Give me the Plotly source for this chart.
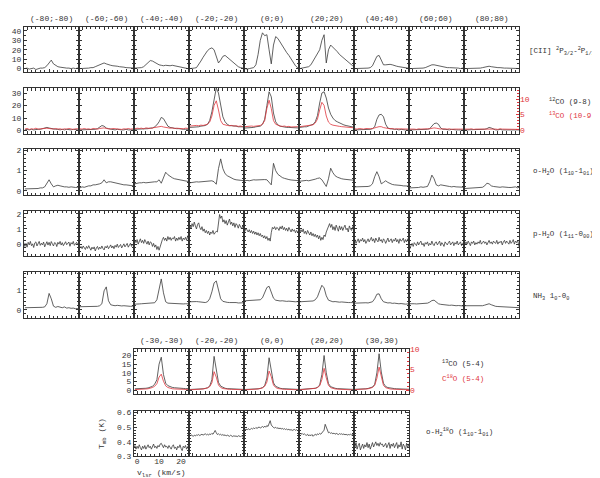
import numpy as np
import plotly.graph_objects as go

W, H = 600, 478
# velocity channel grids (km/s)
V1 = np.arange(-1.0, 24.5, 1.0)      # 26 channels
V05 = np.arange(-1.5, 24.25, 0.5)    # 52 channels

TOP_TITLES = ["(-80;-80)", "(-60;-60)", "(-40;-40)", "(-20;-20)", "(0;0)",
              "(20;20)", "(40;40)", "(60;60)", "(80;80)"]
BOT_TITLES = ["(-30,-30)", "(-20,-20)", "(0,0)", "(20,20)", "(30,30)"]

# ---------------- [CII] 2P3/2-2P1/2 (V1) ----------------
cii_m80 = [0, 0.5, -0.5, 0, 0.5, -1, 0, 0.5, 0.5, 1, 3, 6, 9, 5, 3, 2, 1.5, 1, 1, 0.5, 0.5, 0, 0.5, 0, 0.5, 0]
cii_m60 = [0, 0, 0.5, 0, 0.5, 1, 1, 2, 3, 4, 5.5, 6, 5, 4, 3.5, 3, 3, 2.5, 2, 2, 1.5, 1, 1, 0.5, 0.5, 0.5]
cii_m40 = [0.5, 0.5, 1, 1, 2, 4, 6, 8.5, 8, 6.5, 5, 4, 3.5, 3, 3.5, 3, 3, 3.5, 3, 2, 1.5, 1, 0.5, 0.5, 0, 0]
cii_m20 = [0, 0, 0.5, 1, 4, 8, 12, 16, 19, 21, 22, 20, 12, 6, 9, 13, 14, 12, 10, 7, 5, 3, 2, 1, 0.5, 0]
cii_0 = [0, -0.5, 0, 0.5, 1, 4, 15, 30, 38, 35, 36, 20, 5, 25, 34, 32, 28, 24, 20, 17, 14, 10, 6, 3, 1, 0]
cii_20 = [0, 0.5, 1, 1.5, 2, 4, 8, 12, 16, 20, 30, 36, 6, 20, 25, 23, 21, 18, 15, 13, 11, 9, 6, 4, 3, 2]
cii_40 = [0, 0, 0.5, 0, 0.5, 0, 0.5, 1, 3, 8, 13, 14, 8, 4, 4, 4.5, 4.5, 4, 3, 2.5, 2, 1.5, 1, 1, 0.5, 0.5]
cii_60 = [0, 0, 0, 0.5, 0, 0.5, 0.5, 1, 2, 3, 4, 4, 3.5, 2.5, 2, 1.5, 1.5, 1, 1, 1, 0.5, 0.5, 0.5, 0, 0.5, 0]
cii_80 = [0, 0, 0.5, 0, 0.5, 0, 0.5, 0.5, 1, 1.5, 2.5, 2.5, 2, 1.5, 1, 1, 1, 0.5, 0.5, 0.5, 0.5, 0, 0.5, 0, 0.5, 0]

# ---------------- 12CO (9-8) black, 13CO (10-9) red (V1) ----------------
co12_m80 = [0.5, 1, 0.5, 1, 0.5, 1, 1, 1, 1.5, 2, 2.5, 2, 1.5, 1, 1, 1, 0.5, 1, 0.5, 1, 0.5, 0.5, 1, 0.5, 0.5, 0.5]
co12_m60 = [0.5, 0.5, 1, 0.5, 1, 0.5, 1, 1, 1.5, 2.5, 4, 3.5, 2, 1.5, 1, 1, 0.5, 1, 0.5, 0.5, 0.5, 1, 0.5, 0.5, 0.5, 0.5]
co12_m40 = [1, 1, 1, 1.5, 1, 1.5, 1.5, 2, 2, 3, 4.5, 7, 10.5, 9.5, 6, 3.5, 2.5, 2, 1.5, 1.5, 1.5, 1, 1, 1, 1, 1]
co12_m20 = [2.5, 2.5, 3, 3, 3, 3.5, 3.5, 4, 5, 8, 15, 26, 34, 30, 20, 11, 7, 5, 4, 4, 3.5, 3.5, 3, 3, 3, 3]
co12_0 = [2, 2, 2.5, 2.5, 2.5, 3, 3, 3.5, 5, 9, 20, 31, 27, 14, 7, 4.5, 3.5, 3, 3, 2.5, 2.5, 2.5, 2, 2, 2, 2]
co12_20 = [2.5, 3, 3, 3, 3.5, 4, 5, 7, 12, 22, 30, 31, 26, 18, 13, 10, 8, 7, 6, 5, 4.5, 4, 3.5, 3, 2.5, 2.5]
co12_40 = [0.5, 0.5, 0.5, 1, 0.5, 1, 1, 1, 1.5, 3, 9, 12.5, 13, 11, 5, 2, 1.5, 1, 1, 1, 0.5, 1, 0.5, 0.5, 0.5, 0.5]
co12_60 = [0.5, 0.5, 0.5, 0.5, 1, 0.5, 0.5, 1, 1, 1.5, 4, 5.5, 6, 5, 2, 1, 1, 0.5, 0.5, 1, 0.5, 0.5, 0.5, 0.5, 0.5, 0.5]
co12_80 = [0.5, 0.5, 0.5, 0.5, 0.5, 0.5, 1, 0.5, 1, 1, 1.5, 2.5, 2, 1, 0.5, 0.5, 1, 0.5, 0.5, 0.5, 0.5, 0.5, 0.5, 0.5, 0.5, 0.5]

co13_m80 = [0.2, 0.4, 0.1, 0.3, 0.2, 0.5, 0.2, 0.3, 0.4, 0.3, 0.5, 0.4, 0.3, 0.2, 0.4, 0.2, 0.3, 0.1, 0.3, 0.2, 0.4, 0.2, 0.1, 0.3, 0.2, 0.3]
co13_m60 = [0.3, 0.2, 0.4, 0.2, 0.3, 0.1, 0.4, 0.3, 0.2, 0.4, 0.5, 0.6, 0.4, 0.3, 0.2, 0.4, 0.3, 0.2, 0.3, 0.1, 0.3, 0.2, 0.4, 0.2, 0.3, 0.2]
co13_m40 = [0.3, 0.5, 0.4, 0.5, 0.3, 0.6, 0.5, 0.4, 0.6, 0.7, 0.8, 1.0, 1.1, 0.9, 0.7, 0.6, 0.5, 0.6, 0.4, 0.5, 0.4, 0.5, 0.3, 0.5, 0.4, 0.4]
co13_m20 = [1.2, 1.3, 1.2, 1.4, 1.3, 1.5, 1.4, 1.6, 1.8, 2.5, 4.5, 8, 9.5, 6.5, 3, 1.8, 1.5, 1.4, 1.3, 1.4, 1.2, 1.3, 1.1, 1.2, 1.0, 1.1]
co13_0 = [1.0, 1.1, 1.0, 1.2, 1.1, 1.2, 1.3, 1.4, 1.8, 3, 7, 9.7, 7, 3, 1.8, 1.4, 1.2, 1.1, 1.2, 1.0, 1.1, 0.9, 1.0, 0.9, 1.0, 0.9]
co13_20 = [1.0, 1.1, 1.2, 1.1, 1.3, 1.4, 1.6, 2.2, 3.5, 6.5, 9, 8, 4.5, 2.5, 1.8, 1.5, 1.3, 1.2, 1.1, 1.0, 0.9, 0.8, 0.8, 0.7, 0.7, 0.6]
co13_40 = [0.3, 0.2, 0.4, 0.3, 0.2, 0.4, 0.3, 0.3, 0.4, 0.5, 0.8, 1.0, 1.0, 0.7, 0.5, 0.4, 0.3, 0.4, 0.2, 0.3, 0.3, 0.2, 0.3, 0.2, 0.3, 0.2]
co13_60 = [0.2, 0.3, 0.2, 0.1, 0.3, 0.2, 0.3, 0.2, 0.3, 0.3, 0.5, 0.6, 0.5, 0.3, 0.2, 0.3, 0.2, 0.2, 0.3, 0.1, 0.2, 0.3, 0.2, 0.2, 0.1, 0.2]
co13_80 = [0.2, 0.1, 0.2, 0.3, 0.1, 0.2, 0.2, 0.3, 0.2, 0.2, 0.3, 0.4, 0.3, 0.2, 0.2, 0.1, 0.3, 0.2, 0.2, 0.1, 0.2, 0.2, 0.1, 0.2, 0.2, 0.1]

# ---------------- o-H2O (1_10-1_01) (V1) ----------------
oh2o_m80 = [0.10, 0.10, 0.12, 0.10, 0.12, 0.10, 0.12, 0.15, 0.15, 0.20, 0.35, 0.55, 0.35, 0.20, 0.25, 0.28, 0.25, 0.22, 0.20, 0.20, 0.18, 0.20, 0.18, 0.17, 0.18, 0.20]
oh2o_m60 = [0.15, 0.20, 0.18, 0.22, 0.25, 0.25, 0.30, 0.30, 0.32, 0.35, 0.40, 0.55, 0.40, 0.45, 0.45, 0.42, 0.40, 0.38, 0.35, 0.33, 0.30, 0.30, 0.28, 0.26, 0.25, 0.24]
oh2o_m40 = [0.35, 0.38, 0.40, 0.40, 0.42, 0.40, 0.42, 0.42, 0.43, 0.45, 0.45, 0.55, 0.38, 0.70, 0.92, 0.80, 0.70, 0.65, 0.60, 0.58, 0.55, 0.52, 0.50, 0.48, 0.47, 0.45]
oh2o_m20 = [0.40, 0.42, 0.43, 0.45, 0.44, 0.45, 0.46, 0.45, 0.47, 0.48, 0.50, 0.45, 0.33, 1.10, 1.58, 1.10, 0.85, 0.75, 0.68, 0.62, 0.58, 0.55, 0.53, 0.52, 0.50, 0.50]
oh2o_0 = [0.50, 0.52, 0.50, 0.53, 0.55, 0.54, 0.55, 0.57, 0.55, 0.56, 0.55, 0.40, 0.30, 1.36, 1.00, 0.82, 0.72, 0.66, 0.62, 0.58, 0.56, 0.54, 0.53, 0.52, 0.50, 0.50]
oh2o_20 = [0.48, 0.50, 0.50, 0.52, 0.50, 0.52, 0.55, 0.58, 0.62, 0.64, 0.55, 0.35, 0.22, 0.60, 1.12, 0.90, 0.75, 0.68, 0.62, 0.60, 0.58, 0.56, 0.55, 0.54, 0.53, 0.52]
oh2o_40 = [0.20, 0.20, 0.22, 0.20, 0.22, 0.20, 0.22, 0.25, 0.35, 0.70, 0.95, 0.70, 0.35, 0.42, 0.50, 0.42, 0.35, 0.32, 0.30, 0.30, 0.28, 0.27, 0.25, 0.25, 0.25, 0.24]
oh2o_60 = [0.15, 0.15, 0.17, 0.15, 0.17, 0.20, 0.18, 0.20, 0.22, 0.45, 0.78, 0.60, 0.30, 0.25, 0.30, 0.28, 0.25, 0.22, 0.22, 0.20, 0.22, 0.20, 0.20, 0.18, 0.20, 0.18]
oh2o_80 = [0.12, 0.13, 0.12, 0.14, 0.13, 0.15, 0.15, 0.17, 0.18, 0.25, 0.38, 0.35, 0.25, 0.22, 0.20, 0.20, 0.18, 0.20, 0.18, 0.18, 0.17, 0.17, 0.18, 0.20, 0.15, 0.20]

# ---------------- p-H2O (1_11-0_00) (V05, noisy) ----------------
ph2o_m80 = [0.10, -0.15, 0.05, -0.20, 0.12, -0.05, 0.18, -0.10, 0.02, -0.22, 0.08, 0.15, -0.12,
            0.00, 0.18, -0.08, 0.06, -0.05, 0.14, -0.18, 0.04, 0.16, -0.06, 0.12, -0.10, 0.17,
            0.02, -0.12, 0.10, 0.06, -0.16, 0.12, 0.00, 0.18, -0.06, 0.10, -0.10, 0.06, 0.16,
            -0.04, 0.02, 0.14, -0.14, 0.10, 0.00, 0.18, -0.08, 0.06, 0.12, -0.04, 0.15, 0.02]
ph2o_m60 = [-0.10, -0.25, -0.15, -0.30, -0.12, -0.22, -0.35, -0.15, -0.28, -0.10, -0.30, -0.40, -0.20,
            -0.32, -0.18, -0.45, -0.25, -0.15, -0.35, -0.20, -0.30, -0.12, -0.28, -0.38, -0.15, -0.25,
            -0.10, -0.30, -0.18, -0.05, -0.25, -0.12, -0.30, -0.08, -0.20, 0.00, -0.22, -0.10, -0.02,
            -0.25, -0.08, 0.02, -0.18, -0.05, 0.05, -0.20, -0.02, 0.06, -0.15, 0.00, -0.10, 0.04]
ph2o_m40 = [0.05, 0.25, 0.10, 0.30, 0.00, 0.20, 0.35, 0.10, 0.25, 0.05, 0.30, 0.15, 0.00,
            0.20, -0.05, 0.15, 0.10, -0.15, 0.05, -0.20, -0.05, -0.35, -0.15, -0.40, -0.10, 0.15,
            0.30, 0.45, 0.25, 0.40, 0.20, 0.50, 0.30, 0.45, 0.25, 0.40, 0.35, 0.50, 0.20,
            0.40, 0.25, 0.45, 0.30, 0.50, 0.20, 0.40, 0.30, 0.45, 0.25, 0.55, 0.35, 0.45]
ph2o_m20 = [1.10, 1.25, 1.05, 1.35, 1.15, 1.45, 1.20, 1.00, 1.30, 1.40, 1.10, 0.95, 1.15,
            0.85, 1.00, 0.75, 0.90, 0.70, 0.85, 0.60, 0.80, 0.70, 0.90, 0.65, 0.75, 0.85,
            0.80, 1.50, 1.95, 1.70, 1.85, 1.45, 1.60, 1.35, 1.55, 1.25, 1.50, 1.65, 1.30,
            1.45, 1.20, 1.40, 1.10, 1.35, 1.25, 1.05, 1.30, 1.15, 1.00, 1.20, 1.05, 1.10]
ph2o_0 = [1.00, 0.85, 1.05, 0.90, 0.80, 0.95, 0.75, 0.90, 0.70, 0.85, 0.65, 0.80, 0.60,
          0.75, 0.55, 0.70, 0.50, 0.60, 0.40, 0.55, 0.35, 0.50, 0.25, 0.40, 0.20, 0.75,
          1.10, 1.00, 1.15, 0.95, 1.10, 1.05, 0.90, 1.15, 1.00, 1.20, 0.95, 1.10, 0.90,
          1.05, 0.85, 1.10, 0.95, 0.80, 1.00, 0.85, 0.95, 0.75, 0.90, 0.80, 0.85, 0.75]
ph2o_20 = [0.90, 0.75, 0.95, 0.80, 1.00, 0.70, 0.85, 0.65, 0.90, 0.75, 0.60, 0.80, 0.55,
           0.70, 0.50, 0.65, 0.45, 0.60, 0.35, 0.55, 0.25, 0.45, 0.30, 0.60, 0.50, 0.80,
           0.95, 1.20, 1.35, 1.10, 1.30, 0.95, 1.15, 0.90, 1.25, 1.05, 0.85, 1.20, 0.95,
           1.15, 0.90, 1.10, 1.25, 0.95, 1.05, 0.80, 1.20, 1.00, 0.90, 1.15, 0.95, 1.10]
ph2o_40 = [0.15, 0.30, 0.05, 0.25, 0.35, 0.10, 0.30, 0.20, 0.40, 0.15, 0.30, 0.05, 0.25,
           0.35, 0.15, 0.30, 0.45, 0.20, 0.35, 0.10, 0.40, 0.25, 0.15, 0.45, 0.20, 0.30,
           0.10, 0.35, 0.25, 0.05, 0.30, 0.40, 0.15, 0.25, 0.35, 0.10, 0.30, 0.20, 0.40,
           0.15, 0.30, 0.05, 0.35, 0.20, 0.25, 0.40, 0.10, 0.30, 0.15, 0.35, 0.25, 0.20]
ph2o_60 = [-0.05, -0.30, -0.10, 0.05, -0.15, 0.10, 0.00, -0.10, 0.15, -0.05, 0.10, 0.20, -0.05,
           0.05, -0.15, 0.10, 0.00, 0.15, -0.10, 0.05, -0.05, 0.20, 0.00, -0.10, 0.10, 0.15,
           -0.05, 0.05, 0.20, -0.10, 0.10, 0.00, -0.15, 0.15, 0.05, -0.05, 0.10, 0.20, -0.05,
           0.05, 0.15, -0.10, 0.10, 0.00, 0.20, -0.05, 0.10, 0.15, -0.10, 0.05, 0.00, 0.10]
ph2o_80 = [0.10, -0.05, 0.15, 0.00, 0.20, 0.05, -0.10, 0.15, 0.05, 0.20, -0.05, 0.10, 0.00,
           0.15, 0.05, 0.25, 0.00, 0.10, 0.20, 0.05, 0.15, -0.05, 0.10, 0.25, 0.05, 0.15,
           0.00, 0.20, 0.10, 0.05, 0.25, 0.00, 0.15, 0.10, 0.20, -0.05, 0.15, 0.25, 0.05,
           0.20, 0.10, 0.00, 0.25, 0.05, 0.15, 0.30, 0.00, 0.20, 0.10, 0.25, -0.10, -0.35]

# ---------------- NH3 1_0-0_0 (V1) ----------------
nh3_m80 = [0.10, 0.10, 0.12, 0.10, 0.10, 0.11, 0.10, 0.10, 0.12, 0.14, 0.30, 0.82, 0.55, 0.18, 0.12, 0.16, 0.12, 0.10, 0.14, 0.08, 0.10, 0.07, 0.08, 0.05, 0.06, 0.05]
nh3_m60 = [0.15, 0.15, 0.16, 0.15, 0.17, 0.15, 0.16, 0.18, 0.17, 0.20, 0.30, 0.95, 1.15, 0.45, 0.25, 0.22, 0.20, 0.22, 0.20, 0.19, 0.20, 0.18, 0.19, 0.17, 0.18, 0.17]
nh3_m40 = [0.28, 0.30, 0.29, 0.30, 0.31, 0.30, 0.32, 0.31, 0.32, 0.35, 0.50, 1.10, 1.55, 0.85, 0.40, 0.33, 0.32, 0.31, 0.32, 0.30, 0.31, 0.30, 0.29, 0.30, 0.28, 0.29]
nh3_m20 = [0.40, 0.41, 0.42, 0.41, 0.40, 0.38, 0.37, 0.36, 0.40, 0.55, 0.90, 1.35, 1.45, 0.95, 0.55, 0.42, 0.38, 0.37, 0.36, 0.37, 0.35, 0.36, 0.34, 0.35, 0.34, 0.35]
nh3_0 = [0.45, 0.46, 0.45, 0.47, 0.46, 0.47, 0.48, 0.50, 0.60, 0.85, 1.12, 1.18, 0.85, 0.58, 0.48, 0.45, 0.44, 0.45, 0.43, 0.42, 0.43, 0.41, 0.42, 0.40, 0.41, 0.40]
nh3_20 = [0.40, 0.41, 0.40, 0.42, 0.41, 0.42, 0.44, 0.50, 0.65, 0.95, 1.23, 1.10, 0.70, 0.48, 0.42, 0.40, 0.41, 0.39, 0.38, 0.39, 0.37, 0.38, 0.36, 0.36, 0.35, 0.35]
nh3_40 = [0.33, 0.34, 0.33, 0.35, 0.34, 0.35, 0.34, 0.36, 0.40, 0.55, 0.78, 0.80, 0.55, 0.40, 0.36, 0.34, 0.35, 0.32, 0.33, 0.31, 0.30, 0.31, 0.29, 0.28, 0.29, 0.27]
nh3_60 = [0.30, 0.31, 0.30, 0.29, 0.30, 0.29, 0.30, 0.31, 0.33, 0.38, 0.46, 0.48, 0.38, 0.30, 0.27, 0.25, 0.26, 0.24, 0.22, 0.23, 0.21, 0.20, 0.21, 0.19, 0.18, 0.18]
nh3_80 = [0.20, 0.20, 0.21, 0.19, 0.20, 0.19, 0.18, 0.19, 0.20, 0.23, 0.28, 0.30, 0.25, 0.20, 0.17, 0.16, 0.15, 0.16, 0.14, 0.13, 0.14, 0.12, 0.12, 0.11, 0.10, 0.10]

# ---------------- 13CO (5-4) black, C18O (5-4) red (V1) ----------------
co13_54_m30 = [0.8, 0.8, 0.9, 0.9, 1.0, 1.1, 1.3, 1.6, 2.2, 3.5, 6, 15, 19, 9, 4, 2.6, 2.0, 1.6, 1.4, 1.2, 1.1, 1.0, 1.0, 0.9, 0.9, 0.9]
co13_54_m20 = [0.4, 0.4, 0.5, 0.5, 0.6, 0.7, 0.8, 1.0, 1.4, 2.3, 6, 19.5, 13, 4.5, 2.3, 1.5, 1.1, 0.9, 0.8, 0.7, 0.6, 0.6, 0.5, 0.5, 0.4, 0.4]
co13_54_0 = [0.4, 0.4, 0.5, 0.5, 0.6, 0.7, 0.8, 1.0, 1.5, 2.6, 7, 18.7, 12, 4.2, 2.2, 1.5, 1.1, 0.9, 0.8, 0.7, 0.6, 0.6, 0.5, 0.5, 0.4, 0.4]
co13_54_20 = [0.4, 0.5, 0.5, 0.6, 0.6, 0.7, 0.9, 1.1, 1.6, 3, 9, 20, 10, 3.8, 2, 1.4, 1.1, 0.9, 0.8, 0.7, 0.6, 0.6, 0.5, 0.5, 0.5, 0.4]
co13_54_30 = [0.5, 0.5, 0.6, 0.6, 0.7, 0.8, 1.0, 1.2, 1.8, 3.3, 10, 21, 10.5, 4, 2.1, 1.5, 1.2, 1.0, 0.9, 0.8, 0.7, 0.7, 0.6, 0.6, 0.5, 0.5]

c18o_m30 = [0.2, 0.2, 0.25, 0.3, 0.3, 0.35, 0.4, 0.5, 0.7, 1.0, 1.6, 3.2, 3.9, 2.2, 1.1, 0.7, 0.5, 0.4, 0.35, 0.3, 0.3, 0.25, 0.25, 0.2, 0.2, 0.2]
c18o_m20 = [0.15, 0.15, 0.2, 0.2, 0.25, 0.3, 0.35, 0.45, 0.6, 0.9, 1.8, 4.5, 3.2, 1.3, 0.7, 0.45, 0.35, 0.3, 0.25, 0.25, 0.2, 0.2, 0.2, 0.15, 0.15, 0.15]
c18o_0 = [0.15, 0.15, 0.2, 0.2, 0.25, 0.3, 0.35, 0.45, 0.6, 1.0, 2.0, 4.65, 3.3, 1.3, 0.7, 0.45, 0.35, 0.3, 0.25, 0.25, 0.2, 0.2, 0.2, 0.15, 0.15, 0.15]
c18o_20 = [0.15, 0.2, 0.2, 0.25, 0.25, 0.3, 0.4, 0.5, 0.7, 1.1, 2.6, 5.3, 3.0, 1.2, 0.65, 0.45, 0.35, 0.3, 0.25, 0.25, 0.2, 0.2, 0.2, 0.15, 0.15, 0.15]
c18o_30 = [0.2, 0.2, 0.25, 0.25, 0.3, 0.35, 0.4, 0.5, 0.7, 1.2, 2.9, 5.6, 3.1, 1.2, 0.65, 0.45, 0.35, 0.3, 0.25, 0.25, 0.2, 0.2, 0.2, 0.2, 0.15, 0.15]

# ---------------- o-H2 18O (1_10-1_01) (V05, noisy) ----------------
h218o_m30 = [0.360, 0.375, 0.350, 0.370, 0.355, 0.380, 0.360, 0.345, 0.370, 0.355, 0.375, 0.350, 0.365,
             0.380, 0.360, 0.370, 0.350, 0.375, 0.385, 0.360, 0.370, 0.355, 0.375, 0.365, 0.385, 0.390,
             0.375, 0.360, 0.380, 0.365, 0.370, 0.355, 0.375, 0.360, 0.350, 0.370, 0.380, 0.355, 0.365,
             0.345, 0.370, 0.360, 0.380, 0.355, 0.340, 0.370, 0.360, 0.375, 0.350, 0.365, 0.380, 0.355]
h218o_m20 = [0.445, 0.440, 0.448, 0.442, 0.438, 0.445, 0.440, 0.448, 0.445, 0.450, 0.443, 0.448, 0.452,
             0.446, 0.450, 0.455, 0.448, 0.452, 0.446, 0.455, 0.450, 0.458, 0.452, 0.462, 0.478, 0.462,
             0.450, 0.455, 0.448, 0.452, 0.445, 0.450, 0.443, 0.448, 0.440, 0.446, 0.442, 0.438, 0.445,
             0.440, 0.436, 0.442, 0.438, 0.440, 0.435, 0.442, 0.438, 0.436, 0.440, 0.434, 0.438, 0.436]
h218o_0 = [0.485, 0.480, 0.488, 0.482, 0.490, 0.484, 0.486, 0.492, 0.488, 0.495, 0.490, 0.498, 0.492,
           0.496, 0.502, 0.494, 0.500, 0.505, 0.498, 0.508, 0.500, 0.512, 0.505, 0.520, 0.545, 0.515,
           0.502, 0.498, 0.495, 0.500, 0.492, 0.496, 0.490, 0.494, 0.488, 0.492, 0.486, 0.490, 0.484,
           0.488, 0.482, 0.486, 0.480, 0.484, 0.478, 0.482, 0.485, 0.479, 0.483, 0.477, 0.481, 0.478]
h218o_20 = [0.455, 0.460, 0.452, 0.458, 0.450, 0.455, 0.448, 0.445, 0.452, 0.440, 0.448, 0.442, 0.450,
            0.438, 0.446, 0.452, 0.445, 0.455, 0.450, 0.458, 0.452, 0.462, 0.470, 0.480, 0.520, 0.495,
            0.470, 0.462, 0.465, 0.458, 0.462, 0.455, 0.460, 0.452, 0.458, 0.455, 0.450, 0.456, 0.452,
            0.455, 0.450, 0.454, 0.448, 0.452, 0.446, 0.450, 0.448, 0.452, 0.447, 0.450, 0.446, 0.449]
h218o_30 = [0.380, 0.360, 0.395, 0.350, 0.375, 0.390, 0.345, 0.370, 0.385, 0.355, 0.380, 0.365, 0.395,
            0.360, 0.385, 0.350, 0.375, 0.395, 0.365, 0.380, 0.400, 0.375, 0.390, 0.370, 0.395, 0.380,
            0.385, 0.365, 0.375, 0.390, 0.360, 0.380, 0.395, 0.355, 0.385, 0.370, 0.390, 0.360, 0.375,
            0.395, 0.355, 0.380, 0.365, 0.400, 0.350, 0.385, 0.370, 0.345, 0.390, 0.360, 0.380, 0.395]

# ================= figure construction =================
INK = "#333333"
LINE = "#3a3a3a"
RED = "#e0353c"
FONT = "Liberation Mono"
XR = [-1.4, 23.6]

fig = go.Figure()
layout = {}
counter = [0]


def nid():
    counter[0] += 1
    return counter[0]


def nm(prefix, i):
    return prefix + ("" if i == 1 else str(i))


def base_axis(show_labels, color=INK):
    return dict(showline=True, linecolor=INK, linewidth=1, mirror="allticks",
                ticks="inside", ticklen=3, tickwidth=0.8, tickcolor=INK,
                showgrid=False, zeroline=False, showticklabels=show_labels,
                tickfont=dict(family=FONT, size=8, color=color), fixedrange=True)


def minor(dt):
    return dict(ticks="inside", ticklen=2, tickwidth=0.8, tickcolor=INK, dtick=dt, showgrid=False)


def panel(left, top, w, h, yr, ydt, ymin, ylab, xlab, series, red=None, yr2=None,
          y2lab=False, yfmt=None):
    i = nid()
    xa = base_axis(xlab)
    xa.update(domain=[left / W, (left + w) / W], range=XR, anchor=nm("y", i),
              dtick=10, tick0=0, minor=minor(2))
    if xlab:
        xa["ticklabelstandoff"] = -3
    ya = base_axis(ylab)
    ya.update(domain=[1 - (top + h) / H, 1 - top / H], range=yr, anchor=nm("x", i),
              dtick=ydt, tick0=0, minor=minor(ymin))
    if yfmt:
        ya["tickformat"] = yfmt
    if y2lab:
        ya["mirror"] = True
    layout[nm("xaxis", i)] = xa
    layout[nm("yaxis", i)] = ya
    vx, vy = series
    fig.add_trace(go.Scatter(x=vx, y=vy, mode="lines", line=dict(color=LINE, width=0.8),
                             xaxis=nm("x", i), yaxis=nm("y", i), showlegend=False,
                             hoverinfo="skip"))
    if red is not None:
        j = nid()
        y2 = dict(overlaying=nm("y", i), anchor=nm("x", i), side="right", range=yr2,
                  showgrid=False, zeroline=False, fixedrange=True)
        if y2lab:
            y2.update(visible=True, showline=False, ticks="inside", ticklen=3, tickwidth=0.8,
                      tickcolor=RED, dtick=5, tick0=0, showticklabels=True,
                      tickfont=dict(family=FONT, size=8, color=RED),
                      minor=dict(ticks="inside", ticklen=2, tickwidth=0.8, tickcolor=RED,
                                 dtick=1, showgrid=False))
        else:
            y2.update(visible=False)
        layout[nm("yaxis", j)] = y2
        rx, ry = red
        fig.add_trace(go.Scatter(x=rx, y=ry, mode="lines", line=dict(color=RED, width=0.8),
                                 xaxis=nm("x", i), yaxis=nm("y", j), showlegend=False,
                                 hoverinfo="skip"))


# --- top grid ---
COL_L = [16 + 55 * c for c in range(9)]
ROW_T = [15, 77.5, 140, 202.5, 265]
PH = 46.5
PW = 55

CII = [cii_m80, cii_m60, cii_m40, cii_m20, cii_0, cii_20, cii_40, cii_60, cii_80]
CO12 = [co12_m80, co12_m60, co12_m40, co12_m20, co12_0, co12_20, co12_40, co12_60, co12_80]
CO13 = [co13_m80, co13_m60, co13_m40, co13_m20, co13_0, co13_20, co13_40, co13_60, co13_80]
OH2O = [oh2o_m80, oh2o_m60, oh2o_m40, oh2o_m20, oh2o_0, oh2o_20, oh2o_40, oh2o_60, oh2o_80]
PH2O = [ph2o_m80, ph2o_m60, ph2o_m40, ph2o_m20, ph2o_0, ph2o_20, ph2o_40, ph2o_60, ph2o_80]
NH3 = [nh3_m80, nh3_m60, nh3_m40, nh3_m20, nh3_0, nh3_20, nh3_40, nh3_60, nh3_80]

for c in range(9):
    L = COL_L[c]
    first = c == 0
    last = c == 8
    panel(L, ROW_T[0], PW, PH, [-4, 44.5], 10, 5, first, False, (V1, CII[c]))
    panel(L, ROW_T[1], PW, PH, [-2.5, 34], 10, 5, first, False, (V1, CO12[c]),
          red=(V1, CO13[c]), yr2=[-1.3, 13.7], y2lab=last)
    panel(L, ROW_T[2], PW, PH, [-0.2, 2.05], 1, 0.2, first, False, (V1, OH2O[c]))
    panel(L, ROW_T[3], PW, PH, [-0.8, 2.2], 1, 0.25, first, False, (V05, PH2O[c]))
    panel(L, ROW_T[4], PW, PH, [-0.4, 1.9], 1, 0.2, first, False, (V1, NH3[c]))

# --- bottom grid ---
B_COL_L = [126 + 55 * c for c in range(5)]
B_ROW_T = [343, 406.5]
CO13_54 = [co13_54_m30, co13_54_m20, co13_54_0, co13_54_20, co13_54_30]
C18O = [c18o_m30, c18o_m20, c18o_0, c18o_20, c18o_30]
H218O = [h218o_m30, h218o_m20, h218o_0, h218o_20, h218o_30]
for c in range(5):
    L = B_COL_L[c]
    first = c == 0
    last = c == 4
    panel(L, B_ROW_T[0], PW, PH, [-2.3, 24], 5, 2.5, first, False, (V1, CO13_54[c]),
          red=(V1, C18O[c]), yr2=[-0.9, 10.05], y2lab=last)
    panel(L, B_ROW_T[1], PW, PH, [0.3, 0.612], 0.1, 0.02, first, first, (V05, H218O[c]),
          yfmt=".1f")

# --- annotations ---
ann = []


def text(px, py, s, color=INK, size=8, xanchor="center", angle=0):
    ann.append(dict(x=px / W, y=1 - py / H, xref="paper", yref="paper", text=s,
                    showarrow=False, xanchor=xanchor, yanchor="middle", textangle=angle,
                    borderpad=0, font=dict(family=FONT, size=size, color=color)))


for c, t in enumerate(TOP_TITLES):
    text(COL_L[c] + PW / 2, 7, t)
for c, t in enumerate(BOT_TITLES):
    text(B_COL_L[c] + PW / 2, 335, t)

RS = 7.5
text(520, 40, "[CII] <sup>2</sup>P<sub>3/2</sub>-<sup>2</sup>P<sub>1/2</sub>", size=RS, xanchor="left")
text(540, 91, "<sup>12</sup>CO (9-8)", size=RS, xanchor="left")
text(540, 105, "<sup>13</sup>CO (10-9)", color=RED, size=RS, xanchor="left")
text(524, 163, "o-H<sub>2</sub>O (1<sub>10</sub>-1<sub>01</sub>)", size=RS, xanchor="left")
text(524, 227, "p-H<sub>2</sub>O (1<sub>11</sub>-0<sub>00</sub>)", size=RS, xanchor="left")
text(524, 290, "NH<sub>3</sub> 1<sub>0</sub>-0<sub>0</sub>", size=RS, xanchor="left")
text(433, 358, "<sup>13</sup>CO (5-4)", size=RS, xanchor="left")
text(433, 374, "C<sup>18</sup>O (5-4)", color=RED, size=RS, xanchor="left")
text(417, 429, "o-H<sub>2</sub><sup>18</sup>O (1<sub>10</sub>-1<sub>01</sub>)", size=RS, xanchor="left")
text(95, 430, "T<sub>mb</sub> (K)", angle=-90)
text(153, 470.5, "v<sub>lsr</sub> (km/s)")

fig.update_layout(width=W, height=H, margin=dict(l=0, r=0, t=0, b=0),
                  paper_bgcolor="white", plot_bgcolor="white", showlegend=False,
                  annotations=ann, **layout)
fig.write_html("out.html")
